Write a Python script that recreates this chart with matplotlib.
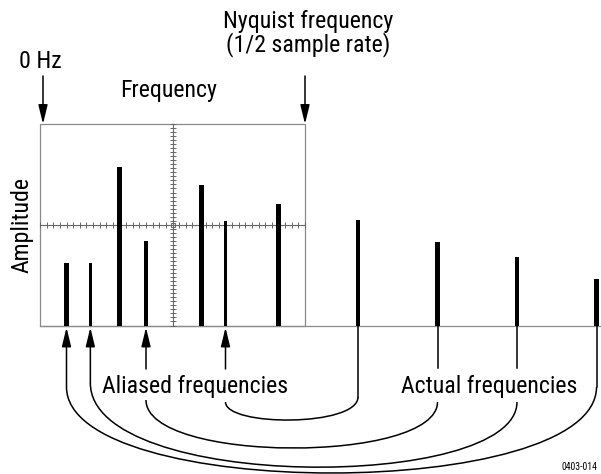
import matplotlib
matplotlib.use("Agg")
import matplotlib.pyplot as plt
from matplotlib import font_manager
from matplotlib.patches import Rectangle, FancyArrowPatch, PathPatch
from matplotlib.path import Path

# ---------- DATA ----------
nyquist = 100          # frequency units at 1/2 sample rate
screen_top = 10        # amplitude at the top of the screen
frequencies = [10, 19, 30, 40, 61, 70, 90, 120, 150, 180, 210]
amplitudes = [3.1, 3.1, 7.85, 4.2, 6.95, 5.2, 6.05, 5.25, 4.15, 3.4, 2.3]
aliased = [10, 19, 40, 70]
actual = [210, 180, 150, 120]

# ---------- LAYOUT (pixels of the 601x474 picture) ----------
W, H = 601, 474
x0_px, xnyq_px = 40, 305
base_px, top_px = 325.5, 124
fx = (xnyq_px - x0_px) / nyquist
ay = (base_px - top_px) / screen_top


def px(p):
    """Pixel column -> frequency units."""
    return (p - x0_px) / fx


def py(p):
    """Pixel row -> amplitude units."""
    return (base_px - p) / ay


# a narrow sans if one is installed, otherwise Liberation Sans
installed = {(f.name, f.stretch) for f in font_manager.fontManager.ttflist}
names = {n for n, _ in installed}
narrow = None
for cand in ["Liberation Sans Narrow", "Roboto Condensed", "Open Sans Condensed",
             "Noto Sans Condensed", "DejaVu Sans Condensed"]:
    if cand in names:
        narrow = cand
        break
if narrow is None and ("DejaVu Sans", "condensed") in installed:
    narrow = "DejaVu Sans"
    plt.rcParams["font.stretch"] = "condensed"
if narrow is None:
    plt.rcParams["font.family"] = ["Liberation Sans", "DejaVu Sans"]
    label_size = 15
else:
    plt.rcParams["font.family"] = [narrow, "DejaVu Sans"]
    label_size = 17.2

GRAY = "#8a8a8a"
DARK = "#666666"

fig = plt.figure(figsize=(W / 100, H / 100), dpi=100)
ax = fig.add_axes([0, 0, 1, 1])
ax.set_xlim(px(0), px(W))
ax.set_ylim(py(H), py(0))
ax.axis("off")

# ---------- SCREEN ----------
ax.add_patch(Rectangle((0, 0), nyquist, screen_top, fill=False, ec=GRAY, lw=0.9, zorder=1))
ax.plot([0, px(W)], [0, 0], color=GRAY, lw=0.9, zorder=1)
ax.plot([nyquist / 2, nyquist / 2], [0, screen_top], color=DARK, lw=0.8, zorder=1)
ax.plot([0, nyquist], [screen_top / 2] * 2, color=DARK, lw=0.8, zorder=1)
hx = [i * nyquist / 40 for i in range(41)]
vy = [i * screen_top / 50 for i in range(51)]
ax.plot(hx, [screen_top / 2] * len(hx), ls="none", marker="|", ms=4, mew=0.7, color=DARK, zorder=1)
ax.plot([nyquist / 2] * len(vy), vy, ls="none", marker="_", ms=4, mew=0.7, color=DARK, zorder=1)
ax.plot([nyquist / 2], [screen_top / 2], ls="none", marker="s", ms=3.5, mfc="none", mec=DARK, mew=0.7, zorder=1)

# ---------- SPECTRUM ----------
widths = [2.1 if i % 2 == 0 else 1.2 for i in range(len(frequencies))]
ax.bar(frequencies, amplitudes, width=widths, color="black", zorder=3)

# ---------- ARROWS AND LABELS ----------
arrow_style = "-|>,head_length=1.15,head_width=0.28"


def arrow(x, y_tail, y_tip):
    ax.add_patch(FancyArrowPatch((x, y_tail), (x, y_tip), arrowstyle=arrow_style,
                                 mutation_scale=10, lw=1.1, color="black",
                                 shrinkA=0, shrinkB=0, zorder=4))


txt = dict(fontsize=label_size, color="black")
ax.text(px(40.5), py(68), "0 Hz", ha="center", va="baseline", **txt)
ax.text(px(308), py(57), "Nyquist frequency\n(1/2 sample rate)", ha="center", va="bottom",
        multialignment="center", linespacing=0.95, **txt)
ax.text(px(169), py(96.5), "Frequency", ha="center", va="baseline", **txt)
ax.text(px(22), screen_top / 2, "Amplitude", rotation=90, ha="center", va="center", **txt)
ax.text(px(195.5), py(392.5), "Aliased frequencies", ha="center", va="baseline", **txt)
ax.text(px(489), py(392.5), "Actual frequencies", ha="center", va="baseline", **txt)
ax.text(px(579), py(470), "0403-014", ha="center", va="baseline", fontsize=7, color="black")

arrow(px(43), py(76), screen_top)
arrow(nyquist, py(76), screen_top)

# aliased arrows (tail row in pixels)
for f, tail in zip(aliased, [387, 383, 369, 369]):
    arrow(f, py(tail), py(327.5))

# lines down from the actual frequencies
for f, end in zip(actual, [387, 368, 368, 397]):
    ax.plot([f, f], [0, py(end)], color="black", lw=1.1, zorder=4)

# curves: (start row, end row, lowest row) in pixels
curve_rows = [(387, 387, 473), (383, 402, 467), (400, 402, 448), (402, 397, 420)]
for fa, fb, (ya, yb, low) in zip(aliased, actual, curve_rows):
    yc = (8 * low - ya - yb) / 6
    verts = [(fa, py(ya)), (fa, py(yc)), (fb, py(yc)), (fb, py(yb))]
    codes = [Path.MOVETO, Path.CURVE4, Path.CURVE4, Path.CURVE4]
    ax.add_patch(PathPatch(Path(verts, codes), fill=False, ec="black", lw=1.1, zorder=4))

fig.savefig("out.png", dpi=100)
